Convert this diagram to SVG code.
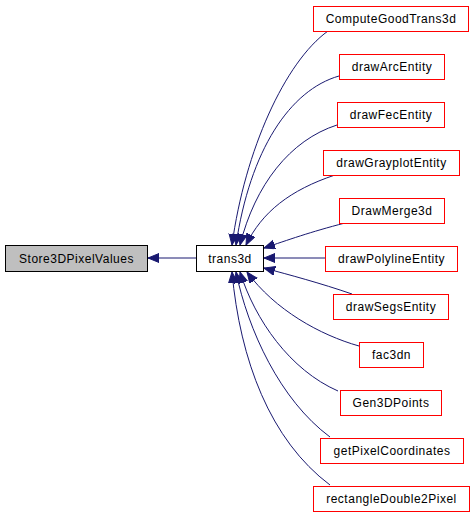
<svg xmlns="http://www.w3.org/2000/svg" width="474" height="514" viewBox="0 0 474 514">
<style>
.n rect{fill:#fff;stroke:#ff0000;stroke-width:1}
.n text{font-family:"Liberation Sans",Arial,sans-serif;font-size:12px;letter-spacing:0.5px;text-anchor:middle;fill:#000}
#trans3d rect{stroke:#000}
#Store3DPixelValues rect{fill:#bfbfbf;stroke:#000}
.e path{fill:none;stroke:#191970;stroke-width:1;marker-end:url(#ah)}
</style>
<defs>
<marker id="ah" markerUnits="userSpaceOnUse" markerWidth="12" markerHeight="10" refX="11" refY="4.5" orient="auto">
<path d="M0,0 L11,4.5 L0,9 z" fill="#191970" stroke="#191970"/>
</marker>
</defs>
<rect width="474" height="514" fill="#fff"/>
<g class="e" id="edges">
<path d="M196.5,258 L148,258"/>
<path d="M328,31 C285,62 245,150 232,245"/>
<path d="M339,76 C290,90 250,150 236,245"/>
<path d="M337,125 C290,140 255,185 240,245"/>
<path d="M335,175 C290,190 262,212 246,245"/>
<path d="M345,223 C310,232 288,240 264,248"/>
<path d="M325,258 L264,258"/>
<path d="M352,294 C320,283 290,275 264,268"/>
<path d="M359,346 C320,335 275,310 247,272"/>
<path d="M338,391 C290,370 255,320 240,272"/>
<path d="M330,437 C280,400 248,330 236,272"/>
<path d="M330,485 C270,440 240,360 232,272"/>
</g>
<g class="n" id="Store3DPixelValues"><rect x="5.5" y="245.5" width="142" height="26"/><text x="76.5" y="263">Store3DPixelValues</text></g>
<g class="n" id="trans3d"><rect x="196.5" y="245.5" width="67" height="26"/><text x="230" y="263">trans3d</text></g>
<g class="n" id="ComputeGoodTrans3d"><rect x="313.5" y="6.5" width="155" height="25"/><text x="391" y="23">ComputeGoodTrans3d</text></g>
<g class="n" id="drawArcEntity"><rect x="339.5" y="54.5" width="105" height="25"/><text x="392" y="71">drawArcEntity</text></g>
<g class="n" id="drawFecEntity"><rect x="337.5" y="102.5" width="107" height="25"/><text x="391" y="119">drawFecEntity</text></g>
<g class="n" id="drawGrayplotEntity"><rect x="323.5" y="150.5" width="136" height="25"/><text x="391.5" y="167">drawGrayplotEntity</text></g>
<g class="n" id="DrawMerge3d"><rect x="339.5" y="198.5" width="105" height="25"/><text x="392" y="215">DrawMerge3d</text></g>
<g class="n" id="drawPolylineEntity"><rect x="325.5" y="246.5" width="132" height="25"/><text x="391.5" y="263">drawPolylineEntity</text></g>
<g class="n" id="drawSegsEntity"><rect x="333.5" y="294.5" width="115" height="25"/><text x="391" y="311">drawSegsEntity</text></g>
<g class="n" id="fac3dn"><rect x="359.5" y="342.5" width="64" height="25"/><text x="391.5" y="359">fac3dn</text></g>
<g class="n" id="Gen3DPoints"><rect x="340.5" y="390.5" width="101" height="25"/><text x="391" y="407">Gen3DPoints</text></g>
<g class="n" id="getPixelCoordinates"><rect x="320.5" y="438.5" width="143" height="25"/><text x="392" y="455">getPixelCoordinates</text></g>
<g class="n" id="rectangleDouble2Pixel"><rect x="313.5" y="486.5" width="156" height="25"/><text x="391.5" y="503">rectangleDouble2Pixel</text></g>
</svg>
